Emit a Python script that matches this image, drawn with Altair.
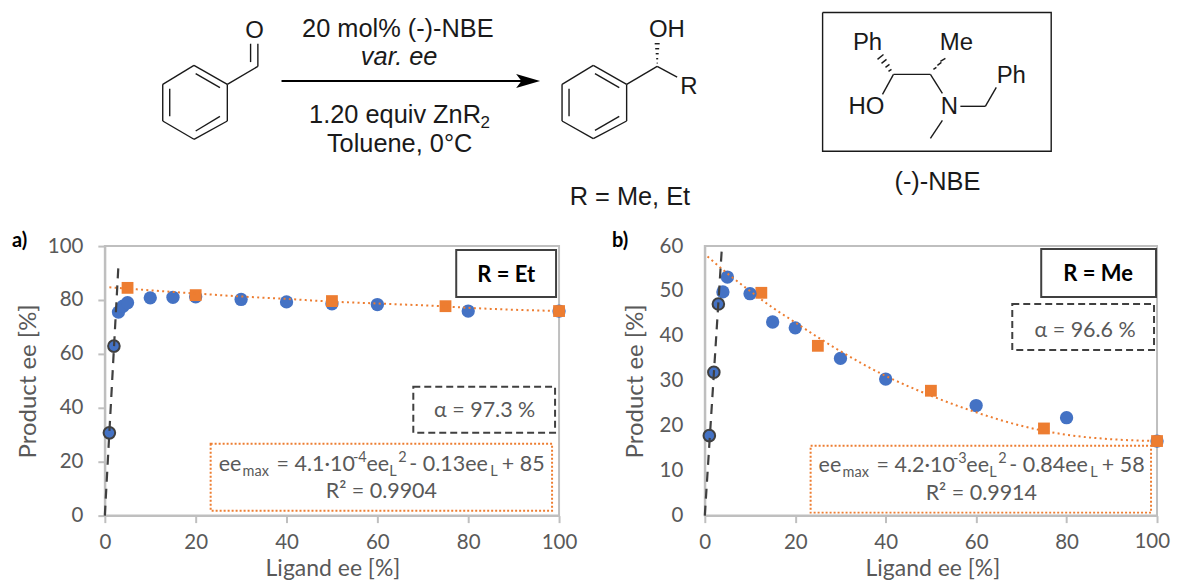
import altair as alt
import pandas as pd

# ---------- panel a (R = Et) ----------
a_x = [3, 4, 5, 10, 15, 20, 30, 40, 50, 60, 80, 100]
a_y = [75.5, 77.7, 79, 80.8, 81, 81.2, 80.2, 79.3, 78.6, 78.3, 75.9, 75.9]
a_ring_x = [1, 2]
a_ring_y = [30.7, 62.9]
a_sq_x = [5, 20, 50, 75, 100]
a_sq_y = [84.5, 81.8, 79.6, 77.7, 75.9]
a_low_x = []
a_low_y = []
a_fit_x = [1, 10, 20, 30, 40, 50, 60, 75, 80, 100]
a_fit_y = [84.7, 83.6, 82.4, 81.3, 80.4, 79.4, 78.7, 77.6, 77.1, 75.9]
a_dash_x = [0, 3]
a_dash_y = [0, 93]

# ---------- panel b (R = Me) ----------
b_x = [4, 5, 10, 15, 20, 30, 40, 60, 80, 100]
b_y = [49.8, 53.1, 49.4, 43.1, 41.8, 35, 30.4, 24.5, 21.8, 16.6]
b_ring_x = [1, 2, 3]
b_ring_y = [17.8, 31.9, 47.1]
b_sq_x = [25, 50, 75, 100]
b_sq_y = [37.8, 27.8, 19.4, 16.6]
b_low_x = [12.5]
b_low_y = [49.6]
b_fit_x = [0.6, 5, 10, 15, 20, 25, 30, 40, 50, 60, 70, 80, 90, 100]
b_fit_y = [57.7, 53.9, 50, 46.3, 43, 39.7, 36.6, 31.1, 26.7, 23, 20, 18, 17, 16.6]
b_dash_x = [0, 3.8]
b_dash_y = [0, 60]

GREY = "#595959"
DARK = "#404040"
AXIS = "#BFBFBF"
INK = "#1a1a1a"
BLUE = "#4472C4"
ORANGE = "#ED7D31"
FONT = "Lato"
SCHEME = "Liberation Sans"
ONE = pd.DataFrame({"o": [0]})

AX, AY, BX = 104, 246, 705
AW, BW, H = 455, 453, 270


def note(text, px, py, ox, size=21.5, color=GREY, weight="normal", align="left"):
    return alt.Chart(ONE).mark_text(
        text=text, fontSize=size, color=color, font=FONT, fontWeight=weight,
        align=align, baseline="middle",
    ).encode(x=alt.value(px - ox), y=alt.value(py - AY))


def box(x0, x1, y0, y1, ox, stroke, dash=None):
    kw = {"strokeDash": dash} if dash else {}
    return alt.Chart(ONE).mark_rect(fill="white", stroke=stroke, strokeWidth=2, **kw).encode(
        x=alt.value(x0 - ox), x2=alt.value(x1 - ox), y=alt.value(y0 - AY), y2=alt.value(y1 - AY)
    )


def panel(xs, ys, rx, ry, sx, sy, lx, ly, fx, fy, dx, dy, ymax, ystep, width, title_x,
          ytick, ypad, xlabel_expr, ann):
    xsc = alt.Scale(domain=[0, 100], nice=False)
    ysc = alt.Scale(domain=[0, ymax], nice=False)
    X = alt.X("x:Q", scale=xsc, axis=alt.Axis(
        title="Ligand ee [%]", values=list(range(0, 101, 20)), grid=False, labelExpr=xlabel_expr,
        domainColor=AXIS, domainWidth=2, tickColor=AXIS, tickSize=7, tickWidth=2,
        labelFont=FONT, labelFontSize=20.5, labelColor=GREY, labelPadding=10, labelFlush=False,
        titleFont=FONT, titleFontSize=23, titleColor=GREY, titleFontWeight="normal",
        titleX=228, titleY=52.5, titleBaseline="middle",
    ))
    Y = alt.Y("y:Q", scale=ysc, axis=alt.Axis(
        title="Product ee [%]", values=list(range(0, ymax + 1, ystep)), grid=False,
        domainColor=AXIS, domainWidth=2, tickColor=AXIS, tickSize=ytick, tickWidth=2,
        labelFont=FONT, labelFontSize=20.5, labelColor=GREY, labelPadding=ypad,
        titleFont=FONT, titleFontSize=24, titleColor=GREY, titleFontWeight="normal",
        titleX=title_x, titleY=H / 2, titleBaseline="middle",
    ))
    low = alt.Chart(pd.DataFrame({"x": lx, "y": ly})).mark_square(size=140, color=ORANGE, opacity=1).encode(x=X, y=Y)
    blue = alt.Chart(pd.DataFrame({"x": xs, "y": ys})).mark_circle(size=178, color=BLUE, opacity=1).encode(x=X, y=Y)
    ring = alt.Chart(pd.DataFrame({"x": rx, "y": ry})).mark_point(
        size=135, filled=True, fill=BLUE, stroke=DARK, strokeWidth=2, opacity=1
    ).encode(x=X, y=Y)
    sq = alt.Chart(pd.DataFrame({"x": sx, "y": sy})).mark_square(size=140, color=ORANGE, opacity=1).encode(x=X, y=Y)
    fit = alt.Chart(pd.DataFrame({"x": fx, "y": fy})).mark_line(
        color=ORANGE, strokeWidth=2, strokeDash=[2, 3.3], interpolate="monotone"
    ).encode(x=X, y=Y)
    dash = alt.Chart(pd.DataFrame({"x": dx, "y": dy})).mark_line(
        color=DARK, strokeWidth=2.2, strokeDash=[10, 7]
    ).encode(x=X, y=Y)
    lays = list(ann[0])
    if lx:
        lays.append(low)
    lays += [blue, ring, sq, fit, dash] + list(ann[1])
    return alt.layer(*lays).properties(
        width=width, height=H, view=alt.ViewConfig(stroke=AXIS, strokeWidth=2)
    )


a_back = [
    box(456, 556, 250, 297, AX, DARK),
    box(413, 555, 387, 433, AX, DARK, [7, 4]),
    box(210, 552, 444, 511, AX, ORANGE, [2, 2]),
]
a_text = [
    note("R = Et", 506, 275, AX, 22, "#000000", "bold", "center"),
    note("α = 97.3 %", 484.5, 411, AX, 21.5, GREY, "normal", "center"),
    note("ee", 218, 465, AX),
    note("max", 242, 472, AX, 14.5),
    note("= 4.1·10", 276, 465, AX),
    note("-4", 352.5, 458.5, AX, 14.5),
    note("ee", 366, 465, AX),
    note("L", 389, 472, AX, 14.5),
    note("2", 398, 458.5, AX, 14.5),
    note("- 0.13ee", 409, 465, AX),
    note("L", 490, 472, AX, 14.5),
    note("+ 85", 501.7, 465, AX),
    note("R² = 0.9904", 381, 492, AX, 21.5, GREY, "normal", "center"),
    note("a)", 11, 241, AX, 20, "#000000", "bold"),
]
b_back = [
    box(1042, 1157, 249, 297, BX, DARK),
    box(1013, 1155, 304, 350, BX, DARK, [7, 4]),
    box(811, 1152, 446, 513, BX, ORANGE, [2, 2]),
]
b_text = [
    note("R = Me", 1099, 274, BX, 22, "#000000", "bold", "center"),
    note("α = 96.6 %", 1086, 331, BX, 21.5, GREY, "normal", "center"),
    note("ee", 819, 466, BX),
    note("max", 843, 473, BX, 14.5),
    note("= 4.2·10", 877, 466, BX),
    note("-3", 953.5, 459.5, BX, 14.5),
    note("ee", 967, 466, BX),
    note("L", 990, 473, BX, 14.5),
    note("2", 999, 459.5, BX, 14.5),
    note("- 0.84ee", 1010, 466, BX),
    note("L", 1091, 473, BX, 14.5),
    note("+ 58", 1102.7, 466, BX),
    note("R² = 0.9914", 982, 494, BX, 21.5, GREY, "normal", "center"),
    note("b)", 612, 241, BX, 20, "#000000", "bold"),
    note("100", 1171, 542, BX, 20.5, GREY, "normal", "right"),
]

pa = panel(a_x, a_y, a_ring_x, a_ring_y, a_sq_x, a_sq_y, a_low_x, a_low_y, a_fit_x, a_fit_y,
           a_dash_x, a_dash_y, 100, 20, AW, 28 - AX, 7, 15, "datum.label", (a_back, a_text))
pb = panel(b_x, b_y, b_ring_x, b_ring_y, b_sq_x, b_sq_y, b_low_x, b_low_y, b_fit_x, b_fit_y,
           b_dash_x, b_dash_y, 60, 10, BW, 636 - BX, 0, 22,
           "datum.value == 100 ? '' : datum.label", (b_back, b_text))

# ---------- reaction scheme: bonds as (x1, y1, x2, y2), read in picture pixels ----------
bonds = [
    # benzaldehyde
    (193.3, 65, 226.7, 84), (226.7, 84, 226.7, 120.7), (226.7, 120.7, 193.3, 139), (193.3, 139, 162, 120.7),
    (162, 120.7, 162, 84), (162, 84, 193.3, 65), (169, 88.3, 169, 116), (195, 73.3, 219.3, 87.3),
    (195, 130.7, 219.3, 116), (226.7, 84, 257.3, 66), (257.3, 66, 257.3, 43.3), (250, 61.7, 250, 43.3),
    # product
    (593.3, 65, 626.7, 84), (626.7, 84, 626.7, 120.7), (626.7, 120.7, 593.3, 138.3), (593.3, 138.3, 562, 120.7),
    (562, 120.7, 562, 84), (562, 84, 593.3, 65), (569, 88.3, 569, 116), (595, 73.3, 619.3, 87.3),
    (595, 130, 619.3, 116), (626.7, 84, 657.3, 66), (657.3, 66, 677.3, 76.7),
    # product hashed bond
    (656.8, 62.7, 657.8, 62.7), (656.3, 58.3, 658.3, 58.3), (655.8, 53.3, 658.8, 53.3),
    (655.3, 48.3, 659.3, 48.3), (654.8, 43.3, 659.8, 43.3),
    # (-)-NBE
    (894, 74, 931, 74), (894, 74, 883, 94), (931, 74, 943, 93), (961, 106, 986, 106),
    (986, 106, 997, 87), (943, 120, 931, 138),
    (889, 71, 892, 69), (886, 67, 890, 64), (882, 63, 887, 59), (878, 59, 884, 54),
    (934, 69, 937, 67), (938, 65, 942, 62), (941, 61, 946, 58),
]
bond_x1 = [b[0] for b in bonds]
bond_y1 = [b[1] for b in bonds]
bond_x2 = [b[2] for b in bonds]
bond_y2 = [b[3] for b in bonds]

frame_x = [823, 1052, 1052, 823, 823]
frame_y = [12, 12, 151, 151, 12]

labels = ["O", "OH", "R", "Ph", "Me", "Ph", "HO", "N"]
label_x = [254, 667, 689, 868, 957, 1012, 867, 950]
label_y = [30.7, 30, 86.7, 43, 43, 76, 107, 107]
big = ["20 mol% (-)-NBE", "1.20 equiv ZnR", "Toluene, 0°C", "R = Me, Et", "(-)-NBE"]
big_x = [397.5, 394.7, 399.3, 630, 938]
big_y = [28.3, 115, 144, 197, 182]

TX = alt.Scale(domain=[AX, 1171], range=[0, 1067], nice=False)
TY = alt.Scale(domain=[246, 8], nice=False)
TXE = alt.X("x:Q", axis=None, scale=TX)
TYE = alt.Y("y:Q", axis=None, scale=TY)

bond_layer = alt.Chart(pd.DataFrame({"x": bond_x1, "y": bond_y1, "x2": bond_x2, "y2": bond_y2})).mark_rule(
    color=INK, strokeWidth=1.4
).encode(x=TXE, y=TYE, x2="x2:Q", y2="y2:Q")
frame_layer = alt.Chart(pd.DataFrame({"x": frame_x, "y": frame_y, "o": list(range(5))})).mark_line(
    color=INK, strokeWidth=1.4
).encode(x=TXE, y=TYE, order="o:Q")


def scheme_text(ts, xs, ys, size, style="normal"):
    return alt.Chart(pd.DataFrame({"x": xs, "y": ys, "t": ts})).mark_text(
        font=SCHEME, fontSize=size, fontStyle=style, color=INK, align="center", baseline="middle"
    ).encode(x=TXE, y=TYE, text="t:N")


arrow_layer = alt.Chart(pd.DataFrame({"x": [281], "y": [80.7], "x2": [525], "y2": [80.7]})).mark_rule(
    color="#000000", strokeWidth=2
).encode(x=TXE, y=TYE, x2="x2:Q", y2="y2:Q")
head_layer = alt.Chart(pd.DataFrame({"x": [528], "y": [80.7]})).mark_point(
    shape="M-1,-0.58L1,0L-1,0.58L-0.55,0Z", size=576, filled=True, color="#000000", opacity=1
).encode(x=TXE, y=TYE)

top = alt.layer(
    frame_layer, bond_layer, arrow_layer, head_layer,
    scheme_text(labels, label_x, label_y, 24),
    scheme_text(big, big_x, big_y, 25.4),
    scheme_text(["var. ee"], [398.8], [57], 25.4, "italic"),
    scheme_text(["2"], [485], [123], 17),
).properties(width=1067, height=238, view=alt.ViewConfig(stroke=None))

bottom = alt.hconcat(pa, pb, spacing=BX - AX - AW, bounds="flush")
chart = alt.vconcat(top, bottom, spacing=0, bounds="flush").properties(
    padding={"left": 3, "top": 0, "right": 0, "bottom": 0}, background="white"
)

chart.save("out.html", embed_options={"renderer": "svg", "actions": False})
